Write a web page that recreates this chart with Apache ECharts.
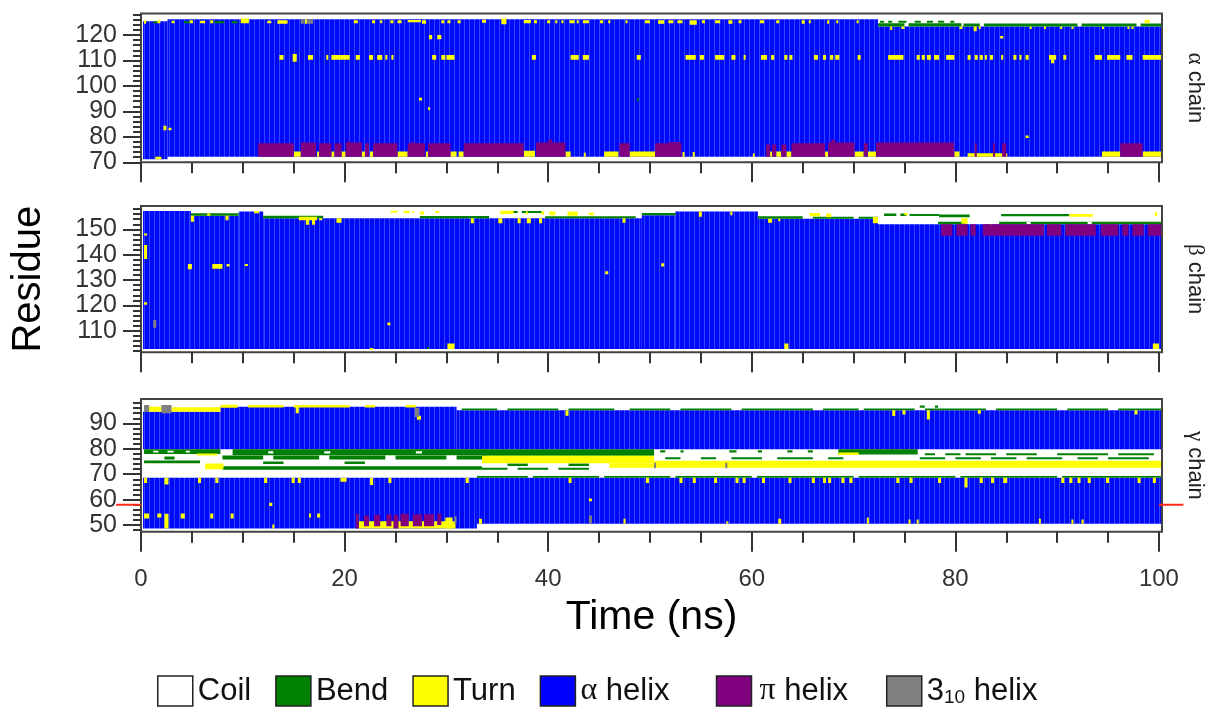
<!DOCTYPE html>
<html><head><meta charset="utf-8">
<script src="https://cdn.jsdelivr.net/npm/echarts@6/dist/echarts.min.js"></script>
<style>html,body{margin:0;padding:0;background:#fff}#c{width:1215px;height:711px}</style>
</head><body><div id="c"></div><script>
// ---------- tick values ----------
const timeTicksMajor = [0, 20, 40, 60, 80, 100];
const timeTicksMinor = [5, 10, 15, 25, 30, 35, 45, 50, 55, 65, 70, 75, 85, 90, 95];
const alphaTicks = [70, 80, 90, 100, 110, 120];
const alphaMinorTicks = [72, 74, 76, 78, 82, 84, 86, 88, 92, 94, 96, 98, 102, 104, 106, 108, 112, 114, 116, 118, 122, 124, 126, 128];
const betaTicks = [110, 120, 130, 140, 150];
const betaMinorTicks = [102, 104, 106, 108, 112, 114, 116, 118, 122, 124, 126, 128, 132, 134, 136, 138, 142, 144, 146, 148, 152, 154, 156, 158];
const gammaTicks = [50, 60, 70, 80, 90];
const gammaMinorTicks = [48, 52, 54, 56, 58, 62, 64, 66, 68, 72, 74, 76, 78, 82, 84, 86, 88, 92, 94, 96, 98];
const markedResidue = [[-2.45, 0, 58], [100, 102.4, 58]]; // red residue marks (time from, time to, residue)

// ---------- data: [time start (ns), time end (ns), residue low, residue high] ----------
// alpha chain
const alphaHelix = [[0.2, 2.6, 71.2, 125.4], [2.6, 72.4, 72.2, 126.2], [72.4, 100.2, 72.2, 123.4]];
const alphaBend = [
  [1.2, 1.6, 124.6, 125.4], [4.2, 4.8, 124.6, 125.4], [7.2, 8.2, 124.6, 125.4], [8.9, 9.5, 124.6, 125.4],
  [72.4, 75.0, 123.4, 124.6], [75.4, 80.6, 123.4, 124.6], [80.8, 82.4, 123.4, 124.5], [82.8, 92.0, 123.4, 124.5],
  [92.4, 97.8, 123.4, 124.5], [98.2, 100.2, 123.4, 124.5],
  [72.6, 73.0, 124.8, 125.6], [73.4, 73.8, 124.8, 125.6], [74.4, 75.2, 124.8, 125.6], [76.0, 76.6, 124.8, 125.6],
  [77.2, 77.8, 124.8, 125.6], [78.3, 78.9, 124.8, 125.6], [79.5, 79.9, 124.8, 125.6],
  [48.7, 48.9, 94.2, 95.2]
];
const alphaCoil = [[0.2, 100.2, 126.4, 127.6]];
const alphaTurn = [
  [1.4, 2.0, 71.2, 72.2], [15.0, 15.7, 72.2, 74.2], [17.3, 17.5, 72.2, 74.2], [18.7, 19.0, 72.2, 74.2],
  [19.7, 20.1, 72.2, 74.2], [21.7, 22.0, 72.2, 74.2], [22.5, 22.8, 72.2, 74.2], [25.2, 26.2, 72.2, 74.2],
  [28.0, 28.2, 72.2, 74.2], [30.4, 31.0, 72.2, 74.2], [31.2, 31.7, 72.2, 74.2], [37.6, 38.7, 72.2, 74.5],
  [41.7, 42.2, 72.2, 74.2], [43.5, 43.7, 72.2, 73.8], [45.5, 46.9, 72.2, 74.2], [48.0, 50.5, 72.2, 74.2],
  [53.2, 53.4, 72.2, 74.0], [54.2, 54.4, 72.2, 74.0], [60.1, 60.3, 72.2, 73.5], [61.8, 62.0, 72.2, 74.2],
  [62.4, 62.9, 72.2, 74.2], [63.4, 63.9, 72.2, 74.2], [67.2, 67.5, 72.2, 74.2], [70.1, 71.0, 72.2, 74.2],
  [71.4, 72.2, 72.2, 74.2], [79.9, 80.4, 72.2, 74.2], [81.2, 85.1, 72.2, 73.6], [94.4, 96.2, 72.2, 74.2],
  [98.4, 100.2, 72.2, 74.2],
  [13.6, 14.0, 110.3, 112.2], [14.9, 15.3, 109.5, 112.5], [16.4, 16.9, 110.3, 112.2], [18.2, 18.4, 110.3, 112.2],
  [18.7, 20.5, 110.3, 112.2], [21.1, 21.5, 110.3, 112.2], [22.4, 22.8, 110.3, 112.2], [23.2, 23.7, 110.3, 112.2],
  [24.0, 24.2, 110.3, 112.2], [24.6, 24.8, 110.3, 112.2], [28.6, 29.0, 110.3, 112.2], [29.5, 29.9, 110.3, 112.2],
  [30.0, 30.8, 110.3, 112.2], [38.4, 38.8, 110.3, 112.2], [42.2, 43.0, 110.3, 112.2], [43.4, 44.0, 110.3, 112.2],
  [48.7, 49.1, 110.3, 112.2], [53.5, 54.5, 110.3, 112.2], [54.9, 55.3, 110.3, 112.2], [56.4, 57.3, 110.3, 112.2],
  [58.0, 58.4, 110.3, 112.2], [59.2, 59.4, 110.3, 112.2], [60.9, 61.5, 110.3, 112.2], [61.9, 62.2, 110.3, 112.2],
  [63.2, 63.5, 110.3, 112.2], [63.7, 64.0, 110.3, 112.2], [66.1, 66.5, 110.3, 112.2], [67.0, 67.3, 110.3, 112.2],
  [67.7, 68.0, 110.3, 112.2], [68.2, 68.6, 110.3, 112.2], [70.4, 70.7, 110.3, 112.2], [73.4, 74.9, 110.3, 112.2],
  [76.2, 76.5, 110.3, 112.2], [76.7, 77.0, 110.3, 112.2], [77.2, 77.6, 110.3, 112.2], [77.9, 78.4, 110.3, 112.2],
  [79.1, 79.9, 110.3, 112.2], [81.2, 81.5, 110.3, 112.2], [81.9, 82.2, 110.3, 112.2], [82.4, 82.7, 110.3, 112.2],
  [82.9, 83.1, 110.3, 112.2], [83.4, 83.7, 110.3, 112.2], [84.5, 84.7, 110.3, 112.2], [85.7, 86.0, 110.3, 112.2],
  [86.3, 86.5, 110.3, 112.2], [86.9, 87.2, 110.3, 112.2], [89.2, 89.9, 110.3, 112.2], [89.4, 89.7, 108.9, 110.3],
  [90.6, 90.9, 110.3, 112.2], [93.7, 94.4, 110.3, 112.2], [94.9, 96.2, 110.3, 112.2], [96.8, 97.4, 110.3, 112.2],
  [98.4, 100.2, 110.3, 112.2],
  [28.3, 28.6, 118.3, 120.0], [29.1, 29.5, 118.3, 120.0], [27.3, 27.6, 94.3, 95.4], [28.2, 28.4, 90.5, 91.6],
  [2.2, 2.5, 82.6, 84.4], [2.7, 3.0, 82.6, 83.6], [84.4, 84.7, 118.6, 119.6], [86.9, 87.2, 79.5, 80.5],
  [0.3, 0.5, 124.4, 125.8], [1.6, 1.9, 124.6, 125.8], [3.0, 3.3, 124.6, 125.6], [4.8, 5.1, 124.6, 125.8],
  [5.8, 6.3, 124.6, 125.6], [6.8, 7.1, 124.6, 125.8], [9.8, 10.6, 124.6, 126.5], [12.4, 12.8, 124.6, 125.6],
  [13.4, 14.4, 124.4, 125.8], [16.1, 16.3, 124.4, 126.2], [20.9, 21.3, 124.6, 125.8], [22.7, 23.0, 124.6, 125.8],
  [23.5, 23.7, 124.6, 125.8], [24.5, 24.8, 124.6, 125.8], [25.2, 25.6, 124.6, 125.8], [26.2, 27.5, 125.0, 125.9],
  [27.6, 28.0, 124.4, 125.8], [29.5, 29.8, 124.6, 125.8], [30.1, 30.4, 124.6, 125.8], [31.1, 31.4, 124.6, 125.8],
  [33.5, 33.9, 124.8, 126.0], [35.4, 35.9, 124.2, 126.5], [37.6, 38.3, 124.6, 125.9], [38.6, 38.9, 124.6, 125.8],
  [39.9, 40.2, 124.6, 125.8], [40.7, 40.9, 124.6, 125.8], [41.3, 41.5, 124.6, 125.8], [42.1, 42.6, 124.6, 125.8],
  [42.8, 43.0, 124.6, 125.8], [43.4, 44.0, 124.6, 125.8], [45.1, 45.4, 124.6, 125.8], [45.9, 46.1, 124.6, 125.8],
  [47.6, 47.8, 124.6, 125.8], [49.5, 50.0, 124.6, 125.8], [50.8, 51.4, 124.4, 125.8], [51.8, 52.3, 124.6, 125.8],
  [52.7, 53.2, 124.6, 125.8], [53.9, 54.6, 124.0, 125.8], [55.1, 55.4, 124.6, 125.8], [56.4, 56.9, 124.6, 125.8],
  [57.7, 58.1, 124.4, 125.8], [58.7, 59.0, 124.6, 125.8], [60.8, 61.2, 124.6, 125.8], [62.4, 62.7, 124.6, 125.8],
  [64.9, 65.2, 124.4, 125.8], [65.6, 65.8, 124.6, 125.8], [67.4, 67.6, 124.4, 125.8], [68.3, 68.5, 124.6, 125.8],
  [70.3, 70.5, 124.6, 125.8],
  [73.6, 73.8, 122.0, 123.4], [74.7, 75.0, 122.4, 123.4], [80.4, 80.7, 122.4, 123.4], [81.8, 82.1, 121.5, 123.4],
  [82.3, 82.5, 122.4, 123.4], [87.3, 87.5, 122.4, 123.4], [88.7, 88.9, 122.4, 123.4], [90.3, 90.5, 122.4, 123.4],
  [91.4, 91.6, 122.4, 123.4], [94.4, 94.6, 122.4, 123.4], [96.9, 97.1, 122.4, 123.4], [97.3, 97.5, 122.4, 123.4],
  [98.6, 99.1, 124.6, 126.0]
];
const alphaPi = [
  [11.5, 15.0, 72.2, 77.5], [15.7, 17.2, 72.2, 77.8], [17.5, 18.7, 72.2, 77.5], [19.0, 19.7, 72.2, 77.5],
  [20.1, 21.7, 72.2, 77.8], [20.3, 20.5, 77.8, 78.6], [22.0, 22.4, 72.2, 77.5], [22.8, 25.2, 72.2, 77.5],
  [26.2, 27.9, 72.2, 77.5], [26.6, 26.9, 77.5, 78.0], [28.2, 30.4, 72.2, 77.5], [31.7, 37.6, 72.2, 77.5],
  [38.8, 41.7, 72.2, 77.8], [40.0, 40.4, 77.8, 79.0], [47.0, 48.0, 72.2, 77.5], [50.5, 53.1, 72.2, 77.5],
  [51.8, 53.0, 77.5, 78.0], [61.4, 61.8, 72.2, 77.0], [62.0, 62.4, 72.2, 77.0], [62.9, 63.4, 72.2, 77.0],
  [63.9, 67.2, 72.2, 77.5], [67.5, 70.1, 72.2, 77.8], [67.8, 68.2, 77.8, 79.0], [71.0, 71.4, 72.2, 77.5],
  [72.2, 79.9, 72.2, 77.8], [81.9, 82.1, 72.2, 77.5], [83.7, 83.9, 72.2, 77.5], [84.6, 85.0, 72.2, 77.5],
  [96.2, 98.4, 72.2, 77.5]
];
const alpha310 = [[15.7, 16.0, 124.4, 126.2], [16.3, 16.9, 124.4, 126.2]];

// beta chain
const betaHelix = [
  [0.2, 4.9, 102.8, 157.2], [4.9, 9.6, 102.8, 155.4], [9.6, 12.0, 102.8, 157.0], [12.0, 49.2, 102.8, 154.4],
  [49.2, 52.5, 102.8, 155.6], [52.5, 60.6, 102.8, 157.0], [60.6, 72.4, 102.8, 154.2], [72.4, 100.2, 102.8, 152.0]
];
const betaBend = [
  [4.9, 9.6, 155.4, 156.3], [12.0, 17.9, 154.4, 155.4], [27.4, 34.2, 154.4, 155.3], [35.5, 39.4, 156.4, 157.2],
  [39.7, 48.6, 154.4, 155.2], [49.2, 52.5, 155.6, 156.4], [60.6, 65.0, 154.2, 155.2], [66.0, 70.0, 154.2, 155.0],
  [70.5, 72.4, 154.2, 155.0], [73.0, 74.2, 155.3, 156.2], [74.6, 75.2, 155.3, 156.2], [75.5, 78.4, 155.3, 156.0],
  [78.4, 81.4, 154.8, 155.8], [78.3, 81.0, 152.0, 153.0], [84.3, 100.2, 152.0, 153.0], [84.5, 91.2, 155.2, 156.0],
  [28.1, 28.3, 102.8, 103.6]
];
const betaCoil = [[1.0, 1.4, 102.0, 102.8], [37.0, 37.4, 156.4, 157.2], [87.0, 87.4, 152.0, 153.0], [93.0, 93.4, 152.0, 153.0]];
const betaTurn = [
  [0.3, 0.6, 147.6, 148.4], [0.3, 0.6, 138.3, 143.8], [0.3, 0.6, 120.3, 121.2],
  [4.6, 5.0, 134.3, 136.3], [7.0, 8.0, 134.5, 136.3], [8.4, 8.7, 135.3, 136.3], [10.2, 10.5, 135.5, 136.3],
  [24.2, 24.5, 112.2, 113.3], [45.6, 45.9, 132.3, 133.5], [51.1, 51.4, 135.3, 136.6],
  [22.5, 22.8, 102.3, 103.2], [30.1, 30.8, 102.8, 105.0], [63.2, 63.6, 102.8, 105.0], [99.4, 100.0, 102.8, 105.0],
  [4.9, 5.2, 153.0, 155.4], [6.5, 6.8, 155.4, 156.2], [8.3, 8.6, 153.6, 155.4], [11.1, 11.6, 156.3, 157.2],
  [15.5, 17.3, 153.6, 155.0], [16.2, 16.5, 151.8, 154.4], [16.8, 17.1, 151.8, 154.4], [17.5, 17.8, 153.6, 154.4],
  [19.2, 19.7, 152.6, 154.4], [24.5, 25.2, 156.6, 157.3], [25.8, 26.4, 156.4, 157.3], [26.6, 26.8, 156.4, 157.0],
  [27.4, 27.8, 155.8, 157.0], [28.9, 29.3, 156.4, 157.2], [32.4, 32.7, 152.4, 154.4], [35.1, 35.5, 152.4, 154.4],
  [35.3, 36.6, 156.0, 157.3], [37.0, 37.3, 152.4, 154.4], [37.8, 38.0, 155.8, 157.0], [37.9, 38.3, 152.4, 154.4],
  [39.1, 39.4, 152.4, 154.4], [39.3, 39.6, 155.8, 157.0], [40.1, 40.7, 155.6, 157.0], [41.9, 42.9, 155.4, 157.0],
  [44.0, 44.5, 155.6, 156.6], [47.3, 47.6, 152.6, 154.4], [54.8, 55.1, 155.0, 157.0], [57.9, 58.1, 155.6, 157.0],
  [61.6, 62.0, 152.6, 154.2], [62.6, 62.8, 153.2, 154.2], [65.7, 66.7, 155.2, 156.4], [67.3, 67.8, 154.8, 156.2],
  [71.9, 72.4, 152.4, 155.0], [75.0, 75.3, 155.6, 156.4], [80.6, 81.2, 152.2, 154.4], [83.4, 83.6, 151.0, 152.0],
  [91.2, 93.5, 155.0, 156.0], [99.6, 99.8, 155.2, 156.8]
];
const betaPi = [
  [78.6, 79.7, 147.5, 152.0], [80.1, 81.2, 147.5, 152.0], [81.5, 82.0, 147.5, 152.0], [82.7, 88.7, 147.5, 152.0],
  [89.0, 90.4, 147.5, 152.0], [90.8, 93.8, 147.5, 152.0], [94.3, 96.0, 147.5, 152.0], [96.4, 97.0, 147.5, 152.0],
  [97.4, 98.5, 147.5, 152.0], [98.9, 100.2, 147.5, 152.0]
];
const beta310 = [[1.2, 1.5, 111.2, 114.2]];

// gamma chain
const gammaHelix = [
  [0.2, 7.8, 79.8, 94.6], [7.8, 31.0, 79.8, 96.6], [31.0, 100.2, 79.8, 95.2],
  [0.2, 33.0, 48.7, 68.6], [33.0, 100.2, 50.5, 68.6]
];
const gammaBend = [
  [0.3, 7.8, 78.0, 79.8], [9.0, 33.5, 77.5, 79.8], [33.5, 50.4, 77.3, 79.8],
  [51.0, 51.5, 78.6, 79.4], [53.0, 53.3, 78.6, 79.4], [57.8, 58.5, 78.6, 79.4], [60.6, 61.0, 78.6, 79.4],
  [63.5, 64.0, 78.6, 79.4], [65.5, 66.0, 78.6, 79.4], [68.5, 76.3, 77.8, 79.8],
  [77.0, 78.0, 77.5, 78.3], [79.0, 80.5, 77.5, 78.3], [81.0, 84.0, 77.5, 78.3], [85.0, 88.0, 77.5, 78.3],
  [90.0, 95.0, 77.5, 78.3], [96.0, 99.5, 77.5, 78.3],
  [2.3, 3.3, 75.8, 77.0], [8.0, 12.0, 75.8, 77.4], [13.0, 17.5, 75.8, 77.4], [18.5, 24.0, 75.8, 77.4],
  [25.0, 30.0, 75.8, 77.4], [31.0, 34.0, 75.8, 77.4],
  [51.5, 53.0, 75.9, 76.7], [55.0, 56.5, 75.9, 76.7], [58.0, 61.0, 75.9, 76.7], [62.5, 66.0, 75.9, 76.7],
  [67.5, 69.0, 75.9, 76.7], [76.5, 79.0, 75.9, 76.7], [80.0, 82.5, 75.9, 76.7], [83.5, 86.0, 75.9, 76.7],
  [87.0, 90.5, 75.9, 76.7], [92.0, 94.0, 75.9, 76.7], [95.0, 99.0, 75.9, 76.7],
  [0.3, 5.8, 74.3, 75.4], [8.0, 33.5, 71.8, 73.1], [33.5, 36.0, 71.8, 72.6], [37.0, 40.0, 71.8, 72.6],
  [41.0, 44.0, 71.8, 72.6], [12.0, 14.0, 74.0, 75.0], [20.0, 22.0, 74.0, 75.0], [36.0, 38.0, 73.2, 74.2],
  [42.0, 44.0, 73.2, 74.2],
  [33.0, 38.0, 68.6, 69.4], [38.5, 45.0, 68.6, 69.4], [45.5, 52.0, 68.6, 69.4], [52.5, 60.0, 68.6, 69.4],
  [60.5, 70.0, 68.6, 69.4], [70.5, 80.0, 68.6, 69.4], [80.5, 90.0, 68.6, 69.4], [90.5, 100.2, 68.6, 69.4],
  [31.5, 35.0, 95.2, 95.9], [36.0, 41.0, 95.2, 95.9], [42.0, 46.5, 95.2, 95.9], [48.0, 52.0, 95.2, 95.9],
  [53.0, 58.0, 95.2, 95.9], [59.0, 66.0, 95.2, 95.9], [67.0, 70.5, 95.2, 95.9], [71.0, 76.0, 95.2, 95.9],
  [77.0, 83.0, 95.2, 95.9], [84.0, 90.0, 95.2, 95.9], [91.0, 95.0, 95.2, 95.9], [96.0, 100.2, 95.2, 95.9],
  [76.5, 77.0, 96.2, 97.0], [78.0, 78.3, 96.2, 97.0]
];
const gammaCoil = [
  [0.2, 100.2, 69.4, 71.3], [1.2, 1.7, 78.6, 79.2], [2.6, 3.2, 78.6, 79.2], [4.4, 4.8, 78.6, 79.2],
  [12.5, 13.0, 78.2, 79.0], [18.0, 18.6, 78.2, 79.0], [27.0, 27.6, 78.2, 79.0], [38.0, 38.4, 75.0, 76.0],
  [42.0, 42.5, 75.0, 76.0], [47.0, 47.4, 75.5, 76.5]
];
const gammaTurn = [
  [0.8, 2.0, 94.6, 96.6], [3.0, 7.8, 94.6, 96.4], [7.8, 9.5, 96.2, 97.3], [10.5, 14.0, 96.3, 97.2],
  [15.0, 20.5, 96.3, 97.2], [22.0, 23.0, 96.3, 97.2], [26.0, 27.0, 96.3, 97.2], [27.1, 27.5, 91.4, 93.0],
  [15.2, 15.5, 94.0, 96.6], [41.7, 42.0, 93.0, 95.2], [73.8, 74.1, 92.9, 95.2], [74.8, 75.1, 93.5, 95.2],
  [77.2, 77.5, 91.5, 95.2], [82.2, 82.5, 93.8, 95.2], [97.6, 97.9, 93.5, 95.2],
  [6.3, 8.1, 72.0, 74.2], [33.5, 50.4, 74.3, 77.3], [46.0, 50.4, 72.6, 74.3], [50.4, 100.2, 72.6, 75.3],
  [68.5, 70.5, 77.6, 78.6], [5.5, 7.5, 77.4, 78.2],
  [0.3, 0.6, 66.6, 68.6], [2.3, 2.7, 66.0, 68.6], [5.6, 5.9, 66.6, 68.6], [7.3, 7.6, 66.6, 68.6],
  [12.1, 12.4, 66.6, 68.6], [14.8, 15.1, 66.6, 68.6], [15.4, 15.7, 66.6, 68.6], [19.6, 20.2, 67.0, 68.6],
  [22.5, 22.8, 65.8, 68.6], [24.3, 24.6, 66.6, 68.6], [31.9, 32.2, 66.6, 68.6], [42.0, 42.3, 66.6, 68.6],
  [49.6, 49.9, 66.6, 68.6], [52.9, 53.2, 66.6, 68.6], [54.2, 54.5, 66.6, 68.6], [56.3, 56.6, 66.6, 68.6],
  [58.4, 58.7, 66.6, 68.6], [59.1, 59.4, 66.6, 68.6], [61.0, 61.3, 66.6, 68.6], [63.6, 63.9, 66.6, 68.6],
  [65.9, 66.2, 66.6, 68.6], [67.0, 67.3, 66.6, 68.6], [67.5, 67.8, 66.6, 68.6], [68.8, 69.1, 66.6, 68.6],
  [69.6, 69.9, 66.6, 68.6], [74.2, 74.5, 66.6, 68.6], [75.5, 75.8, 66.6, 68.6], [78.3, 78.6, 66.6, 68.6],
  [80.9, 81.2, 64.8, 68.6], [82.4, 82.7, 66.6, 68.6], [83.5, 83.8, 66.6, 68.6], [84.7, 85.1, 66.6, 68.6],
  [90.4, 90.7, 66.6, 68.6], [91.2, 91.5, 66.6, 68.6], [92.0, 92.3, 66.6, 68.6], [93.0, 93.3, 66.6, 68.6],
  [94.8, 95.1, 66.6, 68.6], [97.9, 98.2, 66.6, 68.6], [99.4, 99.7, 66.6, 68.6],
  [0.3, 0.8, 52.6, 54.6], [1.6, 2.0, 53.0, 54.6], [2.3, 2.7, 48.7, 54.5], [3.9, 4.3, 52.6, 54.6],
  [6.8, 7.1, 52.6, 54.6], [8.8, 9.1, 52.6, 54.6], [12.6, 12.9, 57.5, 58.8], [12.9, 13.1, 48.7, 50.2],
  [16.5, 16.7, 53.0, 54.6], [17.3, 17.6, 53.0, 54.6], [44.0, 44.3, 59.4, 60.5], [33.2, 33.5, 50.5, 52.5],
  [47.4, 47.6, 50.5, 52.5], [57.5, 57.7, 50.5, 51.5], [62.6, 62.9, 50.5, 52.5], [71.3, 71.5, 50.5, 53.0],
  [75.4, 75.6, 50.5, 52.2], [76.2, 76.4, 50.5, 52.2], [88.2, 88.4, 50.5, 52.5], [91.4, 91.6, 50.5, 52.2],
  [92.4, 92.6, 50.5, 52.2],
  [21.4, 30.9, 48.7, 51.5], [29.9, 30.6, 48.7, 53.0]
];
const gammaPi = [
  [21.1, 21.4, 48.7, 54.5], [21.9, 22.4, 49.5, 53.8], [22.9, 23.5, 49.5, 54.0], [24.1, 24.6, 49.5, 54.3],
  [24.8, 25.3, 48.7, 54.0], [25.5, 26.3, 49.5, 54.5], [26.7, 27.6, 49.5, 54.3], [27.8, 28.8, 49.5, 54.3],
  [29.1, 29.5, 50.0, 54.6]
];
const gamma310 = [
  [0.3, 0.8, 94.5, 97.2], [2.0, 3.0, 94.0, 97.2], [26.9, 27.3, 92.5, 96.2], [30.8, 31.0, 50.5, 53.5],
  [44.0, 44.3, 50.6, 53.8], [50.4, 50.6, 72.4, 74.5], [57.4, 57.6, 72.4, 74.5]
];

// ---------- chart ----------
const chart = echarts.init(document.getElementById('c'), null, {renderer: 'canvas'});

function makeStripe() {
  const c = document.createElement('canvas'); c.width = 5; c.height = 4;
  const ctx = c.getContext('2d');
  ctx.fillStyle = '#0208fa'; ctx.fillRect(0, 0, 5, 4);
  ctx.fillStyle = '#2a46ff'; ctx.fillRect(4, 0, 1, 4);
  return c;
}
const helixPattern = {image: makeStripe(), repeat: 'repeat'};

const states = [
  {key: 'helix', name: 'α helix', color: '#0000fe'},
  {key: 'bend', name: 'Bend', color: '#008000'},
  {key: 'coil', name: 'Coil', color: '#ffffff'},
  {key: 'turn', name: 'Turn', color: '#ffff00'},
  {key: 'pi', name: 'π helix', color: '#800080'},
  {key: 'h310', name: '3₁₀ helix', color: '#808080'}
];
const chains = [
  {label: '{g|α} chain', helix: alphaHelix, bend: alphaBend, coil: alphaCoil, turn: alphaTurn, pi: alphaPi, h310: alpha310,
   min: 70, max: 128.5, top: 13.4, height: 148.9, ticks: alphaTicks, minor: alphaMinorTicks},
  {label: '{g|β} chain', helix: betaHelix, bend: betaBend, coil: betaCoil, turn: betaTurn, pi: betaPi, h310: beta310,
   min: 101.5, max: 159.2, top: 206, height: 146.3, ticks: betaTicks, minor: betaMinorTicks},
  {label: '{g|γ} chain', helix: gammaHelix, bend: gammaBend, coil: gammaCoil, turn: gammaTurn, pi: gammaPi, h310: gamma310,
   min: 47.4, max: 99.6, top: 399, height: 132.7, ticks: gammaTicks, minor: gammaMinorTicks}
];

const tickColor = '#333';
const grids = [], xAxes = [], yAxes = [], series = [];
chains.forEach((ch, g) => {
  grids.push({left: 141, width: 1024, top: ch.top, height: ch.height, show: true,
    borderColor: '#444', borderWidth: 2, backgroundColor: '#fff'});
  const last = g === chains.length - 1;
  xAxes.push({type: 'value', gridIndex: g, min: 0, max: 100.3, position: 'bottom',
    axisLine: {show: false, onZero: false}, splitLine: {show: false},
    axisTick: {show: true, customValues: timeTicksMajor, length: 20, inside: false, lineStyle: {color: tickColor, width: 2}},
    axisLabel: {show: last, customValues: timeTicksMajor, margin: 36, fontSize: 24, color: '#333', fontFamily: 'Liberation Sans'},
    name: last ? 'Time (ns)' : '', nameLocation: 'middle', nameGap: 65,
    nameTextStyle: {fontSize: 41, color: '#000', fontFamily: 'Liberation Sans'}
  });
  xAxes.push({type: 'value', gridIndex: g, min: 0, max: 100.3, position: 'bottom',
    axisLine: {show: false, onZero: false}, splitLine: {show: false}, axisLabel: {show: false},
    axisTick: {show: true, customValues: timeTicksMinor, length: 11, lineStyle: {color: tickColor, width: 2}}
  });
  yAxes.push({type: 'value', gridIndex: g, min: ch.min, max: ch.max, position: 'left',
    axisLine: {show: false, onZero: false}, splitLine: {show: false},
    axisTick: {show: true, customValues: ch.ticks, length: 18, lineStyle: {color: tickColor, width: 2}},
    axisLabel: {customValues: ch.ticks, margin: 24, fontSize: 25, color: '#333', fontFamily: 'Liberation Sans'},
    name: g === 1 ? 'Residue' : '', nameLocation: 'middle', nameGap: 92, nameRotate: 90,
    nameTextStyle: {fontSize: 40, color: '#000', fontFamily: 'Liberation Sans'}
  });
  yAxes.push({type: 'value', gridIndex: g, min: ch.min, max: ch.max, position: 'left',
    axisLine: {show: false, onZero: false}, splitLine: {show: false}, axisLabel: {show: false},
    axisTick: {show: true, customValues: ch.minor, length: 8, lineStyle: {color: tickColor, width: 2}}
  });
  yAxes.push({type: 'value', gridIndex: g, min: ch.min, max: ch.max, position: 'right',
    axisLine: {show: false, onZero: false}, splitLine: {show: false}, axisLabel: {show: false}, axisTick: {show: false},
    name: ch.label, nameLocation: 'middle', nameGap: 22, nameRotate: -90,
    nameTextStyle: {fontSize: 22, color: '#222', fontFamily: 'Liberation Sans',
      rich: {g: {fontSize: 23, fontFamily: 'Liberation Serif', color: '#222'}}}
  });
  states.forEach(st => {
    const fill = st.key === 'helix' ? helixPattern : st.color;
    series.push({
      type: 'custom', name: st.name, xAxisIndex: 2 * g, yAxisIndex: 3 * g, clip: true, silent: true,
      itemStyle: {color: st.color}, data: ch[st.key],
      renderItem: (params, api) => {
        const a = api.coord([api.value(0), api.value(3)]);
        const b = api.coord([api.value(1), api.value(2)]);
        return {type: 'rect', shape: {x: a[0], y: a[1], width: b[0] - a[0], height: b[1] - a[1]},
          style: {fill: fill, stroke: null}};
      }
    });
  });
});
series.push({
  type: 'custom', name: 'marker', xAxisIndex: 4, yAxisIndex: 6, clip: false, silent: true, z: 10,
  data: markedResidue,
  renderItem: (params, api) => {
    const a = api.coord([api.value(0), api.value(2)]);
    const b = api.coord([api.value(1), api.value(2)]);
    return {type: 'line', shape: {x1: a[0], y1: a[1], x2: b[0], y2: b[1]}, style: {stroke: '#ff2a1a', lineWidth: 2}};
  }
});

chart.setOption({
  animation: false,
  backgroundColor: '#fff',
  grid: grids, xAxis: xAxes, yAxis: yAxes, series: series,
  legend: {
    data: ['Coil', 'Bend', 'Turn', 'α helix', 'π helix', '3₁₀ helix'],
    left: 152, top: 661, icon: 'rect', itemWidth: 35, itemHeight: 30, itemGap: 24, selectedMode: false,
    itemStyle: {borderColor: '#222', borderWidth: 1.5},
    formatter: name => {
      if (name === 'α helix') return '{g|α} helix{sp|\u00a0\u00a0}';
      if (name === 'π helix') return '{sa|\u00a0}{g|π} helix{sb|\u00a0}';
      if (name === '3₁₀ helix') return '3{s|10} helix';
      return name;
    },
    textStyle: {fontSize: 31, color: '#111', fontFamily: 'Liberation Sans',
      rich: {g: {fontSize: 32, fontFamily: 'Liberation Serif', color: '#111'},
             s: {fontSize: 19, fontFamily: 'Liberation Sans', color: '#111', padding: [14, 0, 0, 0]},
             sp: {fontSize: 40, lineHeight: 30, fontFamily: 'Liberation Sans'},
             sa: {fontSize: 11, lineHeight: 30, fontFamily: 'Liberation Sans'},
             sb: {fontSize: 50, lineHeight: 30, fontFamily: 'Liberation Sans'}}}
  }
});
</script></body></html>
